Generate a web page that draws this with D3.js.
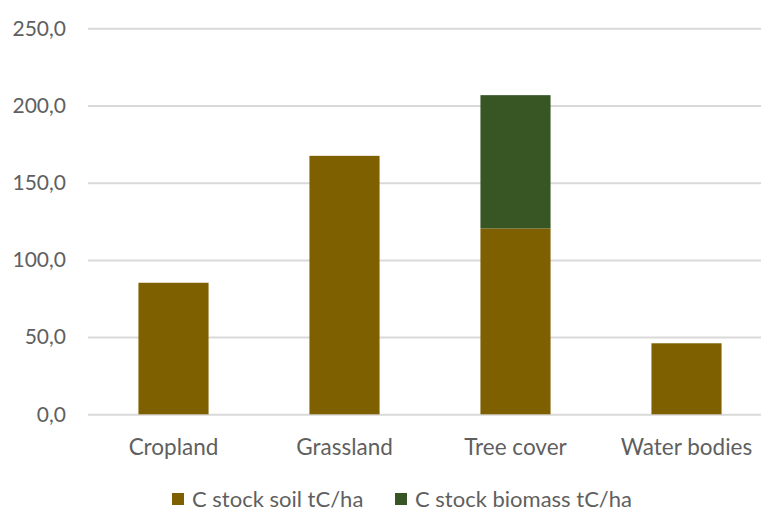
<!DOCTYPE html>
<html>
<head>
<meta charset="utf-8">
<script src="https://cdn.jsdelivr.net/npm/d3@7"></script>
<style>
  html, body { margin: 0; padding: 0; background: #fff; }
  svg { display: block; }
  text { font-family: Lato, "Open Sans", sans-serif; fill: #5f5f5f; }
</style>
</head>
<body>
<svg id="chart" width="761" height="511"></svg>
<script>
// Land cover classes and carbon stocks (tC/ha)
const categories = ["Cropland", "Grassland", "Tree cover", "Water bodies"];
const soilStock = [85.2, 167.4, 120.4, 46.0];
const biomassStock = [0, 0, 86.3, 0];
const seriesNames = ["C stock soil tC/ha", "C stock biomass tC/ha"];
const seriesColors = ["#7F6000", "#375623"];
const yTicks = [0, 50, 100, 150, 200, 250];

const svg = d3.select("#chart");
const W = 761;
const textColor = "#5f5f5f";

const x = d3.scaleBand()
  .domain(categories)
  .range([88, 772])
  .paddingInner(0.59)
  .paddingOuter(0.295);

const y = d3.scaleLinear()
  .domain([0, 250])
  .range([414.3, 28.3]);

const fmt = v => d3.format(".1f")(v).replace(".", ",");

// Horizontal gridlines with value labels
const yAxis = d3.axisLeft(y)
  .tickValues(yTicks)
  .tickSize(-(W - 88))
  .tickPadding(22)
  .tickFormat(fmt);

const gy = svg.append("g")
  .attr("transform", "translate(88,0)")
  .call(yAxis);
gy.select(".domain").remove();
gy.selectAll(".tick line")
  .attr("stroke", "#D9D9D9")
  .attr("stroke-width", 2);
gy.selectAll(".tick text")
  .attr("font-size", 21)
  .attr("fill", textColor)
  .style("font-family", "Lato, sans-serif");

// Stacked bars
const rows = categories.map((c, i) => ({ cat: c, soil: soilStock[i], biomass: biomassStock[i] }));
const stack = d3.stack().keys(["soil", "biomass"]);
const stacked = stack(rows);

svg.append("g")
  .selectAll("g")
  .data(stacked)
  .join("g")
  .attr("fill", (d, i) => seriesColors[i])
  .selectAll("rect")
  .data(d => d.filter(p => p[1] - p[0] > 0))
  .join("rect")
  .attr("x", d => x(d.data.cat))
  .attr("width", x.bandwidth())
  .attr("y", d => y(d[1]))
  .attr("height", d => y(d[0]) - y(d[1]));

// Category axis
const xAxis = d3.axisBottom(x).tickSize(0).tickPadding(25);
const gx = svg.append("g")
  .attr("transform", `translate(0,${y(0)})`)
  .call(xAxis);
gx.select(".domain").remove();
gx.selectAll(".tick text")
  .attr("font-size", 22.5)
  .attr("fill", textColor)
  .style("font-family", "Lato, sans-serif");

// Legend
const legendX = [172, 395];
const legend = svg.append("g");
seriesNames.forEach((name, i) => {
  const g = legend.append("g").attr("transform", `translate(${legendX[i]},493)`);
  g.append("rect")
    .attr("width", 12)
    .attr("height", 12)
    .attr("fill", seriesColors[i]);
  g.append("text")
    .attr("x", 20)
    .attr("y", 14)
    .attr("font-size", 22)
    .text(name);
});
</script>
</body>
</html>
